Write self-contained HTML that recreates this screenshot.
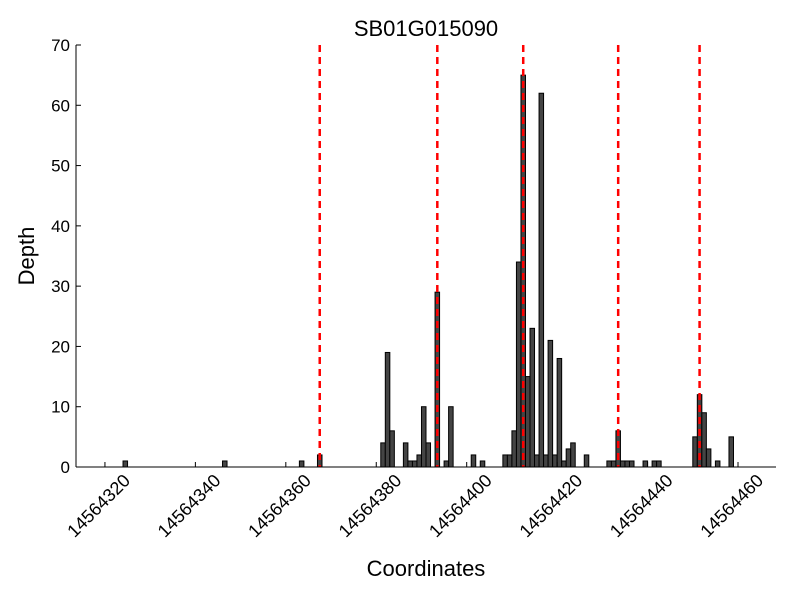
<!DOCTYPE html>
<html><head><meta charset="utf-8"><style>
body{margin:0;background:#fff;}
svg{display:block;font-family:"Liberation Sans",sans-serif;}
</style></head><body>
<svg id="chart" width="800" height="600">
<text x="426" y="36" font-size="22" text-anchor="middle">SB01G015090</text>
<text x="426" y="576" font-size="22" text-anchor="middle">Coordinates</text>
<text transform="translate(34,256) rotate(-90)" font-size="22" text-anchor="middle">Depth</text>
<g id="bars"></g>
<g id="vlines"></g>
<g id="axes"></g>
</svg>
<script>
const positions=[14564324,14564346,14564363,14564367,14564381,14564382,14564383,14564386,14564387,14564388,14564389,14564390,14564391,14564393,14564395,14564396,14564401,14564403,14564408,14564409,14564410,14564411,14564412,14564413,14564414,14564415,14564416,14564417,14564418,14564419,14564420,14564421,14564422,14564423,14564426,14564431,14564432,14564433,14564434,14564435,14564436,14564439,14564441,14564442,14564450,14564451,14564452,14564453,14564455,14564458];
const depths=[1,1,1,2,4,19,6,4,1,1,2,10,4,29,1,10,2,1,2,2,6,34,65,15,23,2,62,2,21,2,18,1,3,4,2,1,1,6,1,1,1,1,1,1,5,12,9,3,1,5];
const boundaries=[14564367.5,14564393.5,14564412.5,14564433.5,14564451.5];
const xTicks=[14564320,14564340,14564360,14564380,14564400,14564420,14564440,14564460];
const yTicks=[0,10,20,30,40,50,60,70];
const L=76,R=776,T=45,B=467,x0=14564313.6,x1=14564468.4;
const xs=v=>L+(v-x0)/(x1-x0)*(R-L);
const ys=v=>B-v/70*(B-T);
const NS="http://www.w3.org/2000/svg";
function mk(tag,attrs,parent){const e=document.createElementNS(NS,tag);for(const k in attrs)e.setAttribute(k,attrs[k]);parent.appendChild(e);return e;}
const gb=document.getElementById('bars');
positions.forEach((p,i)=>{
 const r=mk('rect',{x:xs(p),y:ys(depths[i]),width:xs(p+1)-xs(p),height:B-ys(depths[i]),fill:'#444',stroke:'#000','stroke-width':1},gb);
 
 
});
const gv=document.getElementById('vlines');
boundaries.forEach(b=>{
 const l=mk('line',{x1:xs(b),x2:xs(b),y1:T,y2:B,stroke:'#f00','stroke-width':2.5,'stroke-dasharray':'7,5'},gv);
 
 
});
const ga=document.getElementById('axes');
mk('line',{x1:L,x2:L,y1:T,y2:B,stroke:'#000','stroke-width':1},ga);
mk('line',{x1:L,x2:R,y1:B,y2:B,stroke:'#000','stroke-width':1},ga);
yTicks.forEach(v=>{
 mk('line',{x1:L,x2:L+5,y1:ys(v),y2:ys(v),stroke:'#000'},ga);
 const t=mk('text',{x:L-6,y:ys(v)+6,'font-size':17,'text-anchor':'end'},ga);
 t.textContent=v;
 
 
});
xTicks.forEach(v=>{
 const x=xs(v);
 mk('line',{x1:x,x2:x,y1:B,y2:B-5,stroke:'#000'},ga);
 const t=mk('text',{transform:`translate(${x-2},${B+43}) rotate(-45)`,'font-size':18,'text-anchor':'middle'},ga);
 t.textContent=v;
 
 
});
</script>
</body></html>
